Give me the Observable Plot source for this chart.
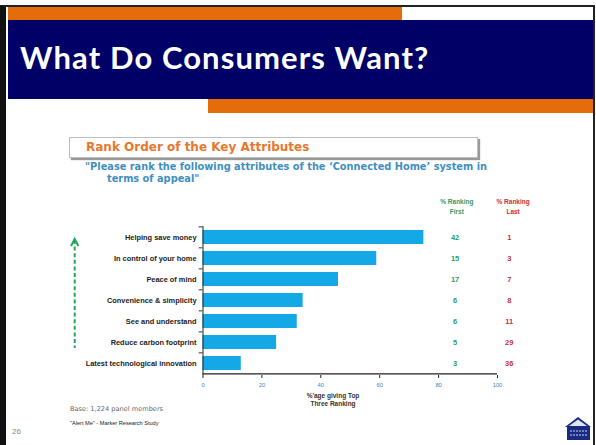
<!DOCTYPE html>
<html><head><meta charset="utf-8">
<script src="https://cdn.jsdelivr.net/npm/d3@7"></script>
<script src="https://cdn.jsdelivr.net/npm/@observablehq/plot@0.6"></script>
<style>
html,body{margin:0;padding:0;background:#fff;}
#slide{position:relative;width:596px;height:445px;overflow:hidden;background:#fff;font-family:"DejaVu Sans",sans-serif;}
.abs{position:absolute;white-space:nowrap;}
</style></head><body>
<div id="slide">
  <div class="abs" style="left:0;top:5px;width:595px;height:440px;border-left:6px solid #111;border-top:2px solid #222;border-right:2px solid #222;box-sizing:border-box;"></div>
  <div class="abs" style="left:8px;top:7px;width:394px;height:13px;background:#e46c0a;"></div>
  <div class="abs" style="left:8px;top:20px;width:585px;height:79px;background:#000066;"></div>
  <div class="abs" style="left:208px;top:99px;width:385px;height:14px;background:#e46c0a;"></div>
  <div class="abs" id="title" style="left:20px;top:38px;color:#fff;font-family:Lato,sans-serif;font-weight:bold;font-size:31px;letter-spacing:1.1px;line-height:38px;">What Do Consumers Want?</div>
  <div class="abs" style="left:69px;top:137px;width:409px;height:21px;border:1px solid #bdbdbd;box-shadow:2px 2px 1px #9a9a9a;box-sizing:border-box;"></div>
  <div class="abs" style="left:86px;top:139px;color:#e8772e;font-weight:bold;font-size:12px;line-height:16px;">Rank Order of the Key Attributes</div>
  <div class="abs" style="left:85px;top:160px;color:#3f8fc2;font-weight:bold;font-size:9.8px;line-height:13px;">"Please rank the following attributes of the ‘Connected Home’ system in</div>
  <div class="abs" style="left:107px;top:172px;color:#3f8fc2;font-weight:bold;font-size:9.8px;line-height:13px;">terms of appeal"</div>
  <svg class="abs" style="left:66px;top:236px;" width="18" height="116">
    <polyline points="5,10 8.7,3 12.4,10" fill="none" stroke="#22a85a" stroke-width="2"/>
    <line x1="8.7" y1="4" x2="8.7" y2="112" stroke="#22a85a" stroke-width="2" stroke-dasharray="4,2.6"/>
  </svg>
  <div class="abs" style="left:283px;top:392px;width:100px;text-align:center;color:#333;font-family:'Liberation Sans',sans-serif;font-weight:bold;font-size:6.5px;line-height:7.6px;">%'age giving Top<br>Three Ranking</div>
  <div class="abs" style="left:70px;top:405px;color:#666;font-size:6.6px;line-height:9px;">Base: 1,224 panel members</div>
  <div class="abs" style="left:70px;top:419px;color:#222;font-family:'Liberation Sans',sans-serif;font-size:5.6px;line-height:8px;">"Alert Me" - Marker Research Study</div>
  <div class="abs" style="left:12px;top:427px;color:#888;font-family:'Liberation Sans',sans-serif;font-size:8px;line-height:10px;">26</div>
  <svg class="abs" style="left:563px;top:415px;" width="30" height="26">
    <polygon points="2,12 15,2 28,12" fill="#1a2a80"/>
    <polygon points="6,11 15,4.5 24,11" fill="#dfe6f3"/>
    <rect x="4" y="12" width="23" height="13" fill="#1a2a80"/>
    <line x1="7" y1="16" x2="24" y2="16" stroke="#cdd6ee" stroke-width="1" stroke-dasharray="2,1"/>
    <line x1="7" y1="20" x2="24" y2="20" stroke="#cdd6ee" stroke-width="1" stroke-dasharray="2,1"/>
  </svg>
  <div id="chart" class="abs" style="left:0;top:0;"></div>
</div>
<script>
const attributes = ["Helping save money","In control of your home","Peace of mind","Convenience & simplicity","See and understand","Reduce carbon footprint","Latest technological innovation"];
const topThree = [75, 59, 46, 34, 32, 25, 13];
const rankFirst = [42, 15, 17, 6, 6, 5, 3];
const rankLast = [1, 3, 7, 8, 11, 29, 36];
const xTicks = [0, 20, 40, 60, 80, 100];

const rows = attributes.map((a, i) => ({attr: a, top3: topThree[i], first: rankFirst[i], last: rankLast[i]}));

const chart = Plot.plot({
  width: 596,
  height: 445,
  marginLeft: 202.5,
  marginRight: 99,
  marginTop: 226,
  marginBottom: 70,
  style: {background: "transparent", fontFamily: "'Liberation Sans', sans-serif", overflow: "visible"},
  x: {domain: [0, 100]},
  y: {domain: attributes, paddingInner: 0.33, paddingOuter: 0.155},
  marks: [
    Plot.barX(rows, {x: "top3", y: "attr", fill: "#14a9e6"}),
    Plot.ruleX([0], {stroke: "#222", strokeWidth: 1}),
    Plot.ruleY(rows.slice(-1), {y: "attr", dy: 10.4, x1: 0, x2: 100, stroke: "#222", strokeWidth: 1.2}),
    Plot.ruleY(rows, {y: "attr", dy: -10.65, x1: -1.3, x2: 0, stroke: "#333"}),
    Plot.axisY({tickSize: 0, tickPadding: 6.5, fontSize: 7.4, fontWeight: "bold", fill: "#222", label: null}),
    Plot.axisX({ticks: xTicks, tickSize: 3, tickPadding: 4, fontSize: 5.8, fill: "#3b86c6", stroke: "#222", label: null}),
    Plot.text(rows, {x: () => 85.6, y: "attr", text: "first", fill: "#2e9a6c", fontSize: 7.5, fontWeight: "bold"}),
    Plot.text(rows, {x: () => 104, y: "attr", text: "last", fill: "#c9303c", fontSize: 7.5, fontWeight: "bold"}),
    Plot.text(["% Ranking\nFirst"], {x: () => 86.2, frameAnchor: "top", lineAnchor: "bottom", dy: -13, text: d => d, fill: "#2e9a6c", fontSize: 6.5, fontWeight: "bold", lineHeight: 1.5}),
    Plot.text(["% Ranking\nLast"], {x: () => 105.3, frameAnchor: "top", lineAnchor: "bottom", dy: -13, text: d => d, fill: "#c9303c", fontSize: 6.5, fontWeight: "bold", lineHeight: 1.5})
  ]
});
document.getElementById("chart").appendChild(chart);
</script>
</body></html>
